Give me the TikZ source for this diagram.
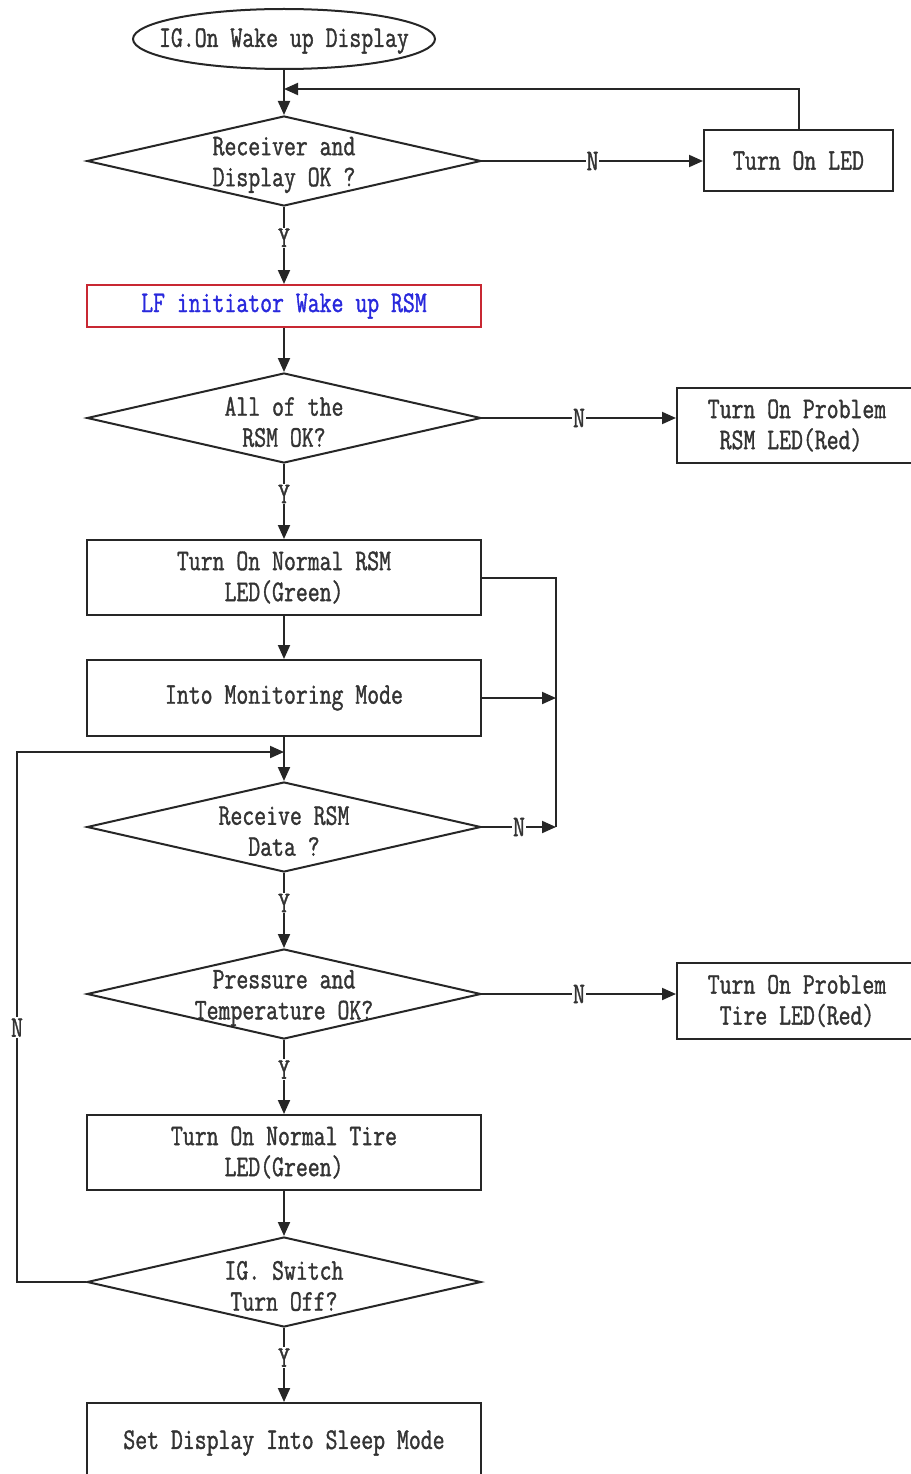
\documentclass[tikz,border=0pt]{standalone}
\usepackage{fontspec}
\newfontfamily\chartfont[FakeStretch=0.77, FakeBold=1.2]{Latin Modern Mono}
\usetikzlibrary{shapes.geometric,arrows.meta}
\definecolor{lfred}{RGB}{200,40,50}
\definecolor{lfblue}{RGB}{40,40,220}
\begin{document}
\begin{tikzpicture}[x = 1pt, y = -1pt, line width = 2pt,
        every node/.style = {font = \chartfont\fontsize{30}{31}\selectfont, text = black!80},
        box/.style = {draw = black!85, rectangle, minimum width = 394pt, minimum height = 75pt, align = center},
        dec/.style = {draw = black!85, diamond, minimum width = 394pt, minimum height = 90pt, inner sep = 0pt},
        dectxt/.style = {align = center, yshift = -4pt},
        arr/.style = {draw = black!85, -{Triangle[length = 14pt, width = 12pt]}},
        lab/.style = {fill = white, inner sep = 1pt}]
            \useasboundingbox (0,0) rectangle (910,1474);
            \node[draw = black!85, ellipse, minimum width = 302pt, minimum height = 60pt] (start) at (284,39) {};
            \node[yshift = -2pt] (starttxt) at (start) {IG.On Wake up Display};
            \node[dec] (d1) at (284,161) {};
            \node[dectxt] (d1txt) at (d1) {Receiver and\\Display OK ?};
            \node[box, minimum width = 189pt, minimum height = 61pt] (led) at (798.5,160.5) {Turn On LED};
            \node[box, draw = lfred, minimum height = 42pt, text = lfblue] (lf) at (284,306) {LF initiator Wake up RSM};
            \node[dec] (d2) at (284,418) {};
            \node[dectxt] (d2txt) at (d2) {All of the\\RSM OK?};
            \node[box, minimum width = 240pt, align = left] (rsmred) at (797,425.5) {Turn On Problem\\~RSM LED(Red)};
            \node[box] (nrm) at (284,577.5) {Turn On Normal RSM\\LED(Green)};
            \node[box, minimum height = 76pt] (mon) at (284,698) {Into Monitoring Mode};
            \node[dec] (d3) at (284,827) {};
            \node[dectxt] (d3txt) at (d3) {Receive RSM\\Data ?};
            \node[dec] (d4) at (284,994) {};
            \node[dectxt] (d4txt) at (d4) {Pressure and\\Temperature OK?};
            \node[box, minimum width = 240pt, minimum height = 76pt, align = left] (tirered) at (797,1001) {Turn On Problem\\~Tire LED(Red)};
            \node[box] (tire) at (284,1152.5) {Turn On Normal Tire\\LED(Green)};
            \node[dec] (d5) at (284,1282) {};
            \node[dectxt] (d5txt) at (d5) {IG. Switch\\Turn Off?};
            \node[box, minimum height = 80pt] (sleep) at (284,1443) {Set Display Into Sleep Mode};
            % joints of the loops
            \coordinate (top) at (284,89);
            \coordinate (back) at (284,752);
            \coordinate (join) at (556,827);
            \draw[arr] (start) -- (d1);
            \draw[arr] (led.north) |- (top);
            \foreach \a/\b in {d1/lf, d2/nrm, d3/d4, d4/tire, d5/sleep} {
                \draw[arr] (\a.south) -- node[lab, pos = 0.4] {Y} (\b.north);
            }
            \foreach \a/\b in {d1/led, d2/rsmred, d4/tirered} {
                \draw[arr] (\a.east) -- node[lab] {N} (\a.east -| \b.west);
            }
            \draw[arr] (lf) -- (d2);
            \draw[arr] (nrm) -- (mon);
            \draw[arr] (mon) -- (d3);
            \draw[arr] (tire) -- (d5);
            \draw[draw = black!85] (nrm.east) -| (join);
            \draw[arr] (mon.east) -- (mon.east -| join);
            \draw[arr] (d3.east) -- node[lab] {N} (join);
            \draw[arr] (d5.west) -- ++(-69,0) -- node[lab, pos = 0.48] {N} ++(0,-530) -- (back);
        \end{tikzpicture}
\end{document}
